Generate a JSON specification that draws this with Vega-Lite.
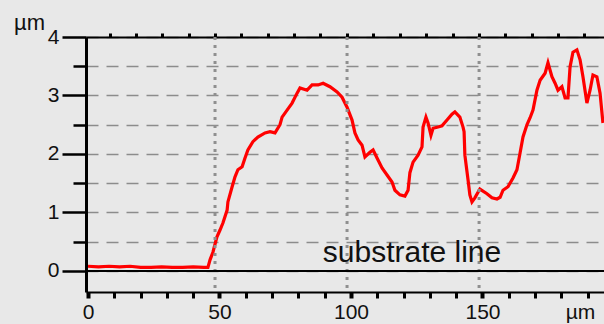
{
  "$schema": "https://vega.github.io/schema/vega-lite/v6.json",
  "width": 518,
  "height": 255,
  "autosize": {"type": "none"},
  "padding": {"left": 86, "top": 37, "right": 0, "bottom": 32},
  "background": "#e8e8e8",
  "config": {"font": "Liberation Sans", "view": {"stroke": null}},
  "datasets": {
    "profile": [
      {"x": 0, "y": 0.08}, {"x": 4, "y": 0.07}, {"x": 8, "y": 0.08}, {"x": 12, "y": 0.07}, {"x": 16, "y": 0.08},
      {"x": 20, "y": 0.06}, {"x": 24, "y": 0.06}, {"x": 28, "y": 0.07}, {"x": 32, "y": 0.06}, {"x": 36, "y": 0.06},
      {"x": 40, "y": 0.07}, {"x": 44, "y": 0.06}, {"x": 45.6, "y": 0.06}, {"x": 46.4, "y": 0.19}, {"x": 47.5, "y": 0.32},
      {"x": 49.0, "y": 0.58}, {"x": 50.2, "y": 0.7}, {"x": 51.3, "y": 0.82}, {"x": 52.9, "y": 1.04}, {"x": 53.2, "y": 1.18},
      {"x": 54.8, "y": 1.44}, {"x": 55.9, "y": 1.61}, {"x": 57.0, "y": 1.73}, {"x": 58.6, "y": 1.78}, {"x": 59.7, "y": 1.93},
      {"x": 60.8, "y": 2.07}, {"x": 62.7, "y": 2.21}, {"x": 64.6, "y": 2.29}, {"x": 67.3, "y": 2.36}, {"x": 69.2, "y": 2.38},
      {"x": 71.1, "y": 2.36}, {"x": 73.0, "y": 2.5}, {"x": 73.8, "y": 2.63}, {"x": 75.7, "y": 2.75}, {"x": 77.6, "y": 2.87},
      {"x": 79.5, "y": 3.04}, {"x": 80.6, "y": 3.13}, {"x": 83.3, "y": 3.09}, {"x": 85.2, "y": 3.18}, {"x": 87.5, "y": 3.18},
      {"x": 89.4, "y": 3.21}, {"x": 92.0, "y": 3.15}, {"x": 94.7, "y": 3.06}, {"x": 96.6, "y": 2.97}, {"x": 98.5, "y": 2.8},
      {"x": 100.4, "y": 2.58}, {"x": 101.5, "y": 2.36}, {"x": 102.7, "y": 2.24}, {"x": 104.2, "y": 2.15}, {"x": 105.3, "y": 1.95},
      {"x": 107.2, "y": 2.03}, {"x": 108.4, "y": 2.07}, {"x": 109.9, "y": 1.93}, {"x": 111.8, "y": 1.76}, {"x": 113.7, "y": 1.64},
      {"x": 115.6, "y": 1.52}, {"x": 116.7, "y": 1.38}, {"x": 118.6, "y": 1.3}, {"x": 120.5, "y": 1.28}, {"x": 121.7, "y": 1.38},
      {"x": 122.4, "y": 1.68}, {"x": 123.6, "y": 1.86}, {"x": 125.5, "y": 1.98}, {"x": 127.0, "y": 2.12}, {"x": 127.4, "y": 2.46},
      {"x": 128.5, "y": 2.63}, {"x": 129.3, "y": 2.53}, {"x": 130.4, "y": 2.32}, {"x": 131.2, "y": 2.44}, {"x": 133.1, "y": 2.46},
      {"x": 134.6, "y": 2.48}, {"x": 136.5, "y": 2.58}, {"x": 138.4, "y": 2.68}, {"x": 139.5, "y": 2.72}, {"x": 141.4, "y": 2.63},
      {"x": 142.6, "y": 2.46}, {"x": 143.0, "y": 2.38}, {"x": 143.3, "y": 1.98}, {"x": 144.5, "y": 1.56}, {"x": 145.2, "y": 1.3},
      {"x": 146.0, "y": 1.18}, {"x": 147.1, "y": 1.25}, {"x": 149.0, "y": 1.4}, {"x": 151.7, "y": 1.32}, {"x": 153.6, "y": 1.25},
      {"x": 155.5, "y": 1.23}, {"x": 156.7, "y": 1.26}, {"x": 157.8, "y": 1.38}, {"x": 159.7, "y": 1.44}, {"x": 161.6, "y": 1.59},
      {"x": 163.1, "y": 1.73}, {"x": 164.3, "y": 2.02}, {"x": 165.4, "y": 2.29}, {"x": 166.9, "y": 2.5}, {"x": 168.1, "y": 2.62},
      {"x": 169.2, "y": 2.75}, {"x": 170.7, "y": 3.09}, {"x": 171.9, "y": 3.26}, {"x": 173.8, "y": 3.38}, {"x": 174.9, "y": 3.56},
      {"x": 176.4, "y": 3.32}, {"x": 177.6, "y": 3.21}, {"x": 178.7, "y": 3.09}, {"x": 180.2, "y": 3.15}, {"x": 181.4, "y": 2.96},
      {"x": 182.5, "y": 2.96}, {"x": 183.3, "y": 3.49}, {"x": 184.4, "y": 3.74}, {"x": 185.9, "y": 3.78}, {"x": 187.1, "y": 3.61},
      {"x": 188.2, "y": 3.32}, {"x": 189.7, "y": 2.87}, {"x": 190.9, "y": 3.09}, {"x": 192.0, "y": 3.35}, {"x": 193.5, "y": 3.32},
      {"x": 194.7, "y": 3.04}, {"x": 195.8, "y": 2.53}
    ],
    "vgrid": [{"x": 48.3}, {"x": 98.5}, {"x": 148.7}],
    "substrate": [{"y": 0}],
    "label": [{"x": 123.2, "y": 0.15, "text": "substrate line"}]
  },
  "resolve": {"axis": {"x": "independent", "y": "independent"}},
  "layer": [
    {
      "data": {"name": "profile"},
      "mark": {"type": "line", "color": "#ff0000", "strokeWidth": 3.2, "clip": true},
      "encoding": {
        "x": {
          "field": "x", "type": "quantitative",
          "scale": {"domain": [-0.76, 196.2], "nice": false, "zero": false},
          "axis": {
            "orient": "bottom",
            "values": [0, 10, 20, 30, 40, 50, 60, 70, 80, 90, 100, 110, 120, 130, 140, 150, 160, 170, 180, 190],
            "labelExpr": "datum.value % 50 === 0 ? format(datum.value, 'd') : ''",
            "grid": false,
            "tickSize": 6, "tickColor": "#000000",
            "tickWidth": {"expr": "datum.value % 50 === 0 ? 4 : 3"},
            "domain": true, "domainColor": "#000000", "domainWidth": 2,
            "labelFontSize": 21, "labelColor": "#111111", "labelPadding": 3, "labelFlush": false, "labelBound": false,
            "labelOverlap": false,
            "title": "µm", "titleFontSize": 21, "titleFontWeight": "normal", "titleColor": "#111111",
            "titleX": 494, "titleY": 26, "titleAlign": "center", "titleBaseline": "alphabetic", "titleAnchor": null
          }
        },
        "y": {
          "field": "y", "type": "quantitative",
          "scale": {"domain": [-0.36, 4], "nice": false, "zero": false},
          "axis": {
            "orient": "left",
            "values": [0, 0.5, 1, 1.5, 2, 2.5, 3, 3.5, 4],
            "labelExpr": "datum.value % 1 === 0 ? format(datum.value, 'd') : ''",
            "grid": true, "gridDash": [12, 8], "gridColor": "#8c8c8c", "gridWidth": 1.5,
            "tickColor": "#000000", "tickWidth": 2.5,
            "tickSize": {"expr": "datum.value % 1 === 0 ? 24 : 13"},
            "domain": true, "domainColor": "#000000", "domainWidth": 3,
            "labelFontSize": 21, "labelColor": "#111111", "labelPadding": 3, "labelBound": false, "labelFlush": false,
            "labelOverlap": false,
            "title": "µm", "titleAngle": 0, "titleFontSize": 22, "titleFontWeight": "normal", "titleColor": "#111111",
            "titleX": -57, "titleY": -8, "titleAlign": "center", "titleBaseline": "alphabetic", "titleAnchor": null
          }
        }
      }
    },
    {
      "data": {"name": "vgrid"},
      "mark": {"type": "rule", "color": "#8f8f8f", "strokeWidth": 3, "strokeDash": [3, 5]},
      "encoding": {
        "x": {
          "field": "x", "type": "quantitative",
          "scale": {"domain": [-0.76, 196.2], "nice": false, "zero": false},
          "axis": {
            "orient": "top",
            "values": [-1.8, 8.3, 18.3, 28.3, 38.3, 48.3, 58.3, 68.4, 78.4, 88.4, 98.5, 108.5, 118.6, 128.6, 138.6, 148.7, 158.7, 168.7, 178.7, 188.7],
            "labels": false, "title": null, "grid": false,
            "tickSize": 4, "tickWidth": 3, "tickColor": "#000000",
            "domain": true, "domainColor": "#000000", "domainWidth": 2
          }
        }
      }
    },
    {
      "data": {"name": "substrate"},
      "mark": {"type": "rule", "color": "#000000", "strokeWidth": 2},
      "encoding": {
        "y": {"field": "y", "type": "quantitative", "axis": null}
      }
    },
    {
      "data": {"name": "label"},
      "mark": {"type": "text", "fontSize": 30, "color": "#111111", "align": "center", "baseline": "alphabetic"},
      "encoding": {
        "x": {"field": "x", "type": "quantitative", "axis": null},
        "y": {"field": "y", "type": "quantitative", "axis": null},
        "text": {"field": "text"}
      }
    }
  ]
}
